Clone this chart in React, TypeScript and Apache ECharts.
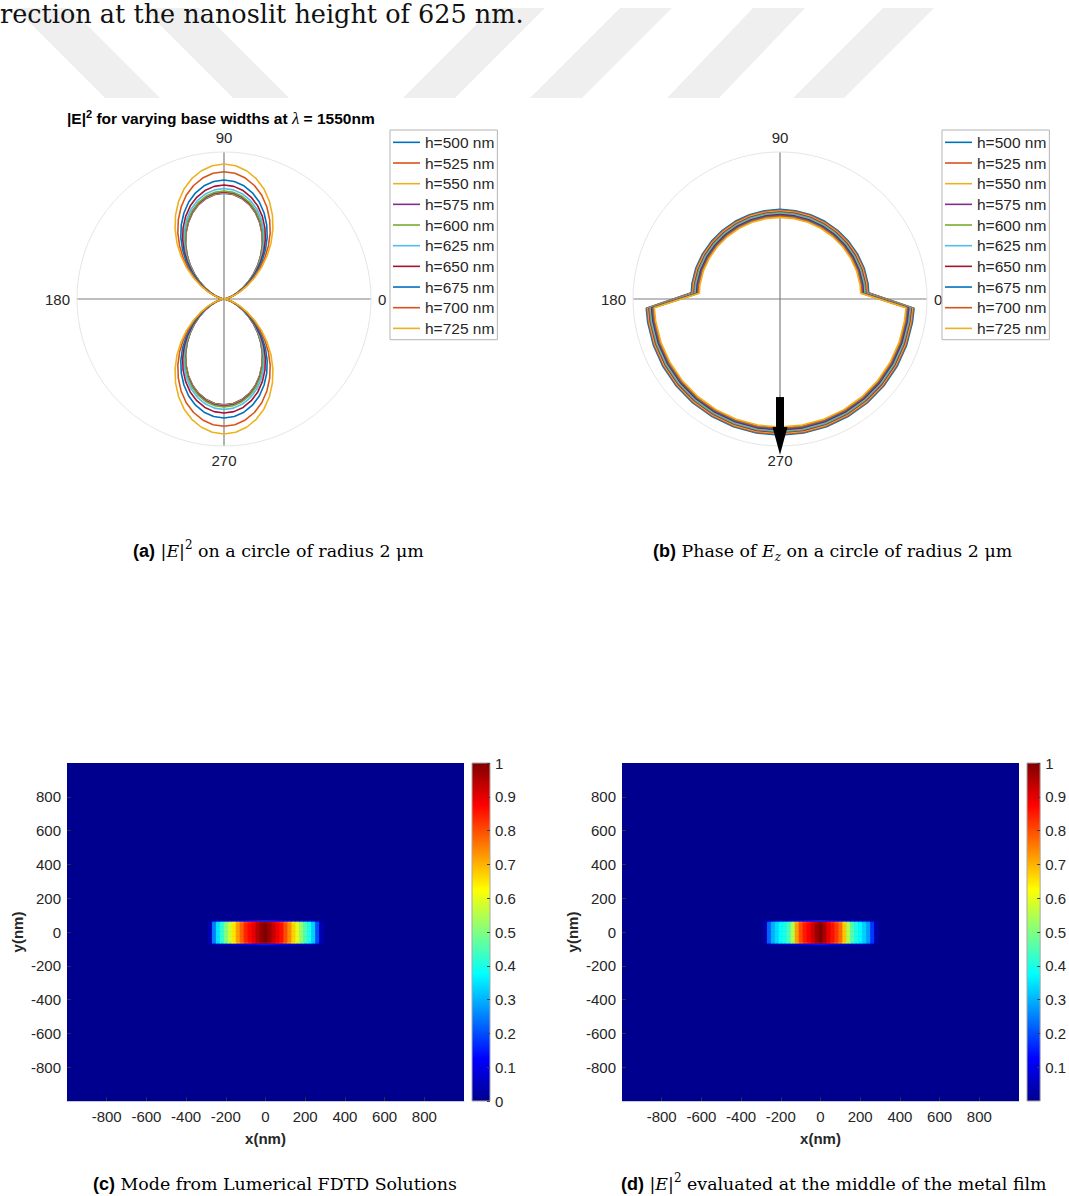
import React, { useEffect, useRef } from 'react';
import * as echarts from 'echarts';

// ---------- data ----------
const HEIGHTS = ['h=500 nm', 'h=525 nm', 'h=550 nm', 'h=575 nm', 'h=600 nm', 'h=625 nm', 'h=650 nm', 'h=675 nm', 'h=700 nm', 'h=725 nm'];
const COLORS = ['#0072BD', '#D95319', '#EDB120', '#7E2F8E', '#77AC30', '#4DBEEE', '#A2142F', '#0072BD', '#D95319', '#EDB120'];
const ANGLE_TICKS = [0, 90, 180, 270];

// (a) |E|^2 lobe: normalised radius read at 5° steps from 0° to 90°
const LOBE_SHAPE = [0, 0.004, 0.018, 0.045, 0.085, 0.138, 0.203, 0.278, 0.362, 0.451, 0.542, 0.632, 0.718, 0.797, 0.867, 0.923, 0.965, 0.991, 1];
const LOBE_PEAK = [0.720, 0.722, 0.725, 0.728, 0.735, 0.752, 0.776, 0.810, 0.866, 0.918];

// (b) phase curve: outermost trace, radius vs angle
const PHASE_ANGLES = [4, 10, 20, 30, 40, 50, 60, 70, 80, 90, 100, 110, 120, 130, 140, 150, 160, 170, 176,
  184, 190, 200, 210, 220, 230, 240, 250, 260, 270, 280, 290, 300, 310, 320, 330, 340, 350, 356];
const PHASE_OUTER = [0.605, 0.608, 0.61, 0.61, 0.61, 0.61, 0.61, 0.61, 0.61, 0.61, 0.61, 0.61, 0.61, 0.61, 0.61, 0.61, 0.61, 0.608, 0.605,
  0.912, 0.914, 0.917, 0.919, 0.921, 0.923, 0.924, 0.925, 0.926, 0.926, 0.926, 0.925, 0.924, 0.923, 0.921, 0.919, 0.917, 0.915, 0.914];
const PHASE_SHIFT = [0, -0.006, -0.012, -0.018, -0.024, -0.030, -0.036, -0.042, -0.048, -0.055];

// (c),(d) field maps
const X_NM = [-280, -260, -240, -220, -200, -180, -160, -140, -120, -100, -80, -60, -40, -20, 0, 20, 40, 60, 80, 100, 120, 140, 160, 180, 200, 220, 240, 260, 280];
const Y_NM = [-80, -70, -60, -50, -40, -30, -20, -10, 0, 10, 20, 30, 40, 50, 60, 70, 80];
const MODE_C_X = [0.04, 0.25, 0.35, 0.42, 0.5, 0.58, 0.65, 0.72, 0.78, 0.84, 0.87, 0.9, 0.95, 0.98, 1.0, 0.97, 0.93, 0.89, 0.86, 0.8, 0.74, 0.67, 0.6, 0.52, 0.45, 0.4, 0.33, 0.2, 0.04];
const MODE_D_X = [0.03, 0.22, 0.3, 0.34, 0.38, 0.4, 0.45, 0.55, 0.72, 0.8, 0.85, 0.88, 0.92, 0.97, 1.0, 0.96, 0.9, 0.86, 0.82, 0.77, 0.68, 0.55, 0.45, 0.4, 0.37, 0.33, 0.28, 0.18, 0.03];
const SLIT_Y = [0, 0.15, 0.97, 1, 1, 1, 1, 1, 1, 1, 1, 1, 1, 1, 0.97, 0.15, 0];
const X_STEP = 20;
const Y_STEP = 10;

const JET = ['#00008F', '#0000FF', '#0080FF', '#00FFFF', '#80FF80', '#FFFF00', '#FF8000', '#FF0000', '#800000'];

// ---------- layout ----------
const PA = { cx: 224, cy: 299, R: 147 };
const PB = { cx: 780, cy: 299, R: 147 };
const SANS = 'Liberation Sans';
const SERIF = 'DejaVu Serif';
const TXT = '#262626';
const WM = '#efefef';
const FS = 15;

function lobeData(peak: number) {
  const out: number[][] = [];
  for (let k = 0; k <= 72; k++) {
    const m = k % 36;
    const idx = m <= 18 ? m : 36 - m;
    out.push([peak * LOBE_SHAPE[idx], k * 5]);
  }
  return out;
}

function phaseData(shift: number) {
  const out = PHASE_ANGLES.map((a, k) => [PHASE_OUTER[k] + shift, a]);
  out.push(out[0]);
  return out;
}

function fieldData(xp: number[]) {
  const out: number[][] = [];
  Y_NM.forEach((y, j) => {
    X_NM.forEach((x, i) => {
      out.push([x, y, xp[i] * SLIT_Y[j]]);
    });
  });
  return out;
}

const renderCell = (params: any, api: any) => {
  const x = api.value(0);
  const y = api.value(1);
  const p0 = api.coord([x - X_STEP / 2, y + Y_STEP / 2]);
  const p1 = api.coord([x + X_STEP / 2, y - Y_STEP / 2]);
  return {
    type: 'rect',
    shape: { x: p0[0], y: p0[1], width: p1[0] - p0[0] + 0.6, height: p1[1] - p0[1] + 0.6 },
    style: { fill: api.visual('color') },
  };
};

function polarAxes(idx: number) {
  return {
    angle: {
      polarIndex: idx, type: 'value', min: 0, max: 360, interval: 90, startAngle: 0, clockwise: false,
      axisLine: { show: true, lineStyle: { color: '#e6e6e6', width: 1 } },
      axisTick: { show: false },
      splitLine: { show: true, lineStyle: { color: '#808080', width: 1.2 } },
      axisLabel: {
        show: true, margin: 7, fontSize: FS, color: TXT, fontFamily: SANS,
        formatter: (v: number) => (ANGLE_TICKS.indexOf(v) >= 0 ? String(v) : ''),
      },
    },
    radius: {
      polarIndex: idx, type: 'value', min: 0, max: 1,
      axisLine: { show: false }, axisTick: { show: false }, axisLabel: { show: false }, splitLine: { show: false },
    },
  };
}

function legendFor(left: number) {
  return {
    left, top: 130, orient: 'vertical', data: HEIGHTS, icon: 'rect', itemWidth: 27, itemHeight: 1.6,
    itemGap: 0, padding: [2, 3, 1, 3], borderColor: '#b4b4b4', borderWidth: 1, backgroundColor: '#fff',
    selectedMode: false,
    textStyle: { fontSize: 15.5, fontFamily: SANS, color: TXT, lineHeight: 20.67 },
  };
}

const jetGradient = () => new echarts.graphic.LinearGradient(0, 1, 0, 0,
  JET.map((c, i) => ({ offset: i / (JET.length - 1), color: c })));

function heatAxes(gridIndex: number) {
  return {
    x: {
      gridIndex, type: 'value', min: -1000, max: 1000, interval: 200,
      axisLine: { show: true, onZero: false, lineStyle: { color: '#c8c8d0' } },
      axisTick: { show: true, inside: true, length: 4, lineStyle: { color: '#303040' } },
      splitLine: { show: false },
      axisLabel: { showMinLabel: false, showMaxLabel: false, fontSize: FS, color: TXT, fontFamily: SANS, margin: 8 },
      name: 'x(nm)', nameLocation: 'middle', nameGap: 30,
      nameTextStyle: { fontSize: 15, fontWeight: 'bold', color: TXT, fontFamily: SANS },
    },
    y: {
      gridIndex, type: 'value', min: -1000, max: 1000, interval: 200,
      axisLine: { show: false, onZero: false },
      axisTick: { show: true, inside: true, length: 4, lineStyle: { color: '#303040' } },
      splitLine: { show: false },
      axisLabel: { showMinLabel: false, showMaxLabel: false, fontSize: FS, color: TXT, fontFamily: SANS, margin: 6 },
      name: 'y(nm)', nameLocation: 'middle', nameGap: 42, nameRotate: 90,
      nameTextStyle: { fontSize: 15, fontWeight: 'bold', color: TXT, fontFamily: SANS },
    },
  };
}

function cbarAxes(gridIndex: number, hideZero: boolean) {
  return {
    x: { gridIndex, type: 'value', show: false, min: 0, max: 1 },
    y: {
      gridIndex, type: 'value', min: 0, max: 1, interval: 0.1, position: 'right',
      axisLine: { show: false, onZero: false },
      axisTick: { show: true, inside: true, length: 3, lineStyle: { color: '#404040' } },
      splitLine: { show: false },
      axisLabel: { showMinLabel: !hideZero, fontSize: FS, color: TXT, fontFamily: SANS, margin: 5 },
    },
  };
}

const capRich = {
  b: { fontFamily: SANS, fontWeight: 'bold', fontSize: 18, color: '#000', lineHeight: 24 },
  r: { fontFamily: SERIF, fontSize: 17.4, color: '#000', lineHeight: 24 },
  i: { fontFamily: SERIF, fontStyle: 'italic', fontSize: 17.4, color: '#000', lineHeight: 24 },
  sup: { fontFamily: SERIF, fontSize: 12, color: '#000', lineHeight: 14, verticalAlign: 'top' },
  sub: { fontFamily: SERIF, fontStyle: 'italic', fontSize: 12, color: '#000', lineHeight: 14, verticalAlign: 'bottom' },
};

function caption(x: number, y: number, text: string) {
  return { type: 'text', x, y, z: 10, style: { text, rich: capRich, verticalAlign: 'middle', align: 'left' } };
}

function stripe(xTop: number, xBot: number, w: number) {
  return {
    type: 'polygon', z: 0, silent: true,
    shape: { points: [[xTop, 8], [xTop + w, 8], [xBot + w, 98], [xBot, 98]] },
    style: { fill: WM },
  };
}

export default function App() {
  const ref = useRef<HTMLDivElement>(null);
  useEffect(() => {
    if (!ref.current) return;
    const chart = echarts.init(ref.current, null, { renderer: 'svg' });
    const pa = polarAxes(0);
    const pb = polarAxes(1);
    const hc = heatAxes(0);
    const hd = heatAxes(1);
    const cc = cbarAxes(2, false);
    const cd = cbarAxes(3, true);

    const lobeSeries = HEIGHTS.map((name, i) => ({
      type: 'line', name, coordinateSystem: 'polar', polarIndex: 0, data: lobeData(LOBE_PEAK[i]),
      symbol: 'none', color: COLORS[i], lineStyle: { width: 1.6, color: COLORS[i] }, z: 3,
    }));
    const phaseSeries = HEIGHTS.map((name, i) => ({
      type: 'line', name, coordinateSystem: 'polar', polarIndex: 1, data: phaseData(PHASE_SHIFT[i]),
      symbol: 'none', color: COLORS[i], lineStyle: { width: 1.6, color: COLORS[i] }, z: 3,
    }));

    const arrowTop = PB.cy + 0.667 * PB.R;
    const arrowNeck = PB.cy + 0.87 * PB.R;
    const arrowTip = PB.cy + 1.06 * PB.R;

    chart.setOption({
      animation: false,
      backgroundColor: '#fff',
      textStyle: { fontFamily: SANS },
      polar: [
        { center: [PA.cx, PA.cy], radius: PA.R },
        { center: [PB.cx, PB.cy], radius: PB.R },
      ],
      angleAxis: [pa.angle, pb.angle],
      radiusAxis: [pa.radius, pb.radius],
      legend: [legendFor(390), legendFor(942)],
      grid: [
        { left: 67, top: 763, width: 397, height: 338, show: true, backgroundColor: '#00008F', borderWidth: 0 },
        { left: 622, top: 763, width: 397, height: 338, show: true, backgroundColor: '#00008F', borderWidth: 0 },
        { left: 472, top: 763, width: 18, height: 338, show: true, backgroundColor: jetGradient(), borderColor: '#a8a8a8', borderWidth: 1 },
        { left: 1027, top: 763, width: 18, height: 338, show: true, backgroundColor: jetGradient(), borderColor: '#a8a8a8', borderWidth: 1 },
      ],
      xAxis: [hc.x, hd.x, cc.x, cd.x],
      yAxis: [hc.y, hd.y, cc.y, cd.y],
      visualMap: [
        { type: 'continuous', show: false, seriesIndex: 20, dimension: 2, min: 0, max: 1, inRange: { color: JET } },
        { type: 'continuous', show: false, seriesIndex: 21, dimension: 2, min: 0, max: 1, inRange: { color: JET } },
      ],
      series: [
        ...lobeSeries,
        ...phaseSeries,
        { type: 'custom', name: 'mode-c', coordinateSystem: 'cartesian2d', xAxisIndex: 0, yAxisIndex: 0,
          data: fieldData(MODE_C_X), encode: { x: 0, y: 1 }, renderItem: renderCell, silent: true },
        { type: 'custom', name: 'mode-d', coordinateSystem: 'cartesian2d', xAxisIndex: 1, yAxisIndex: 1,
          data: fieldData(MODE_D_X), encode: { x: 0, y: 1 }, renderItem: renderCell, silent: true },
      ],
      graphic: [
        stripe(15, 105, 55),
        stripe(143, 233, 56),
        stripe(493, 403, 52),
        stripe(620, 530, 52),
        stripe(753, 667, 52),
        stripe(883, 793, 51),
        {
          type: 'text', x: 0, y: 14, z: 10,
          style: { text: 'rection at the nanoslit height of 625 nm.', font: `25.5px "${SERIF}"`, fill: '#111', verticalAlign: 'middle' },
        },
        {
          type: 'text', x: 67, y: 118, z: 10,
          style: {
            text: '{b||E|}{sup|2}{b| for varying base widths at }{l|λ}{b| = 1550nm}',
            verticalAlign: 'middle',
            rich: {
              b: { fontFamily: SANS, fontWeight: 'bold', fontSize: 15.5, color: '#000', lineHeight: 19 },
              l: { fontFamily: 'Liberation Serif', fontStyle: 'italic', fontSize: 17, color: '#000', lineHeight: 19 },
              sup: { fontFamily: SANS, fontWeight: 'bold', fontSize: 11, color: '#000', lineHeight: 11, verticalAlign: 'top' },
            },
          },
        },
        {
          type: 'rect', z: 10,
          shape: { x: PB.cx - 4, y: arrowTop, width: 8, height: arrowNeck - arrowTop + 1 },
          style: { fill: '#000' },
        },
        {
          type: 'polygon', z: 10,
          shape: { points: [[PB.cx - 7.5, arrowNeck], [PB.cx + 7.5, arrowNeck], [PB.cx, arrowTip]] },
          style: { fill: '#000' },
        },
        caption(133, 551, '{b|(a)}{r| |}{i|E}{r||}{sup|2}{r| on a circle of radius 2 μm}'),
        caption(653, 551, '{b|(b)}{r| Phase of }{i|E}{sub|z}{r| on a circle of radius 2 μm}'),
        caption(93, 1184, '{b|(c)}{r| Mode from Lumerical FDTD Solutions}'),
        caption(621, 1184, '{b|(d)}{r| |}{i|E}{r||}{sup|2}{r| evaluated at the middle of the metal film}'),
      ],
    });
    return () => chart.dispose();
  }, []);
  return <div ref={ref} style={{ position: 'absolute', left: 0, top: 0, width: 1069, height: 1196 }} />;
}
